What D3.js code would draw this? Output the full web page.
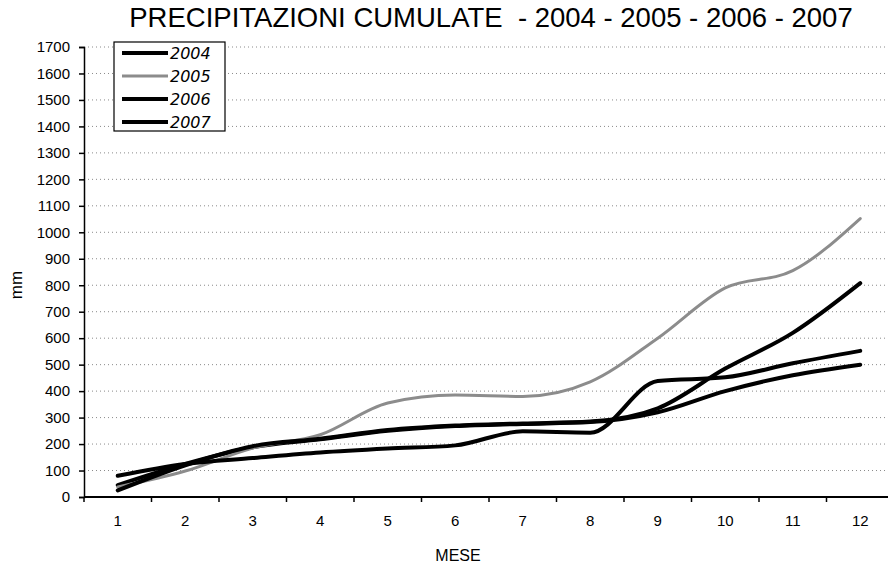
<!DOCTYPE html>
<html>
<head>
<meta charset="utf-8">
<script src="https://cdn.jsdelivr.net/npm/d3@7"></script>
<style>
  body { margin: 0; background: #fff; }
  svg { display: block; }
  text { font-family: "Liberation Sans", Arial, sans-serif; fill: #000; }
</style>
</head>
<body>
<svg id="chart" width="888" height="567"></svg>
<script>
// categories
var months = [1, 2, 3, 4, 5, 6, 7, 8, 9, 10, 11, 12];
var yTicks = d3.range(0, 1701, 100);

// cumulative precipitation (mm)
var years = ["2004", "2005", "2006", "2007"];
var v2004 = [45, 125, 188, 218, 250, 268, 276, 283, 320, 400, 460, 500];
var v2005 = [38, 98, 185, 235, 355, 385, 380, 435, 600, 790, 855, 1052];
var v2006 = [80, 125, 147, 168, 183, 195, 248, 243, 438, 452, 505, 552];
var v2007 = [25, 120, 192, 220, 253, 270, 278, 285, 335, 485, 620, 808];

var colors = { "2004": "#000", "2005": "#8c8c8c", "2006": "#000", "2007": "#000" };
var widths = { "2004": 4, "2005": 3, "2006": 4, "2007": 4 };

var series = [
  { name: "2004", values: v2004 },
  { name: "2005", values: v2005 },
  { name: "2006", values: v2006 },
  { name: "2007", values: v2007 }
];

var svg = d3.select("#chart");

var margin = { left: 84, top: 47, bottom: 497 },
    plotRight = 886;

var x = d3.scaleBand()
    .domain(months)
    .range([84, 894]);

var y = d3.scaleLinear()
    .domain([0, 1700])
    .range([margin.bottom, margin.top]);

// title
svg.append("text")
    .attr("x", 491)
    .attr("y", 27)
    .attr("text-anchor", "middle")
    .style("font-size", "27.5px")
    .style("white-space", "pre")
    .text("PRECIPITAZIONI CUMULATE  - 2004 - 2005 - 2006 - 2007");

// grid
svg.append("g")
    .selectAll("line")
    .data(yTicks.filter(function(d) { return d > 0; }))
    .enter().append("line")
    .attr("x1", margin.left)
    .attr("x2", plotRight)
    .attr("y1", function(d) { return y(d); })
    .attr("y2", function(d) { return y(d); })
    .attr("stroke", "#8a8a8a")
    .attr("stroke-width", 1)
    .attr("stroke-dasharray", "1,3");

// y axis
var yAxis = svg.append("g")
    .attr("transform", "translate(" + margin.left + ",0)")
    .call(d3.axisLeft(y).tickValues(yTicks).tickSize(5).tickPadding(9).tickFormat(d3.format("d")));
yAxis.select(".domain").attr("stroke", "#000").attr("stroke-width", 1.5);
yAxis.selectAll(".tick line").attr("stroke", "#000").attr("stroke-width", 1.5);
yAxis.selectAll("text").style("font-size", "15px").style("font-family", "Liberation Sans, Arial, sans-serif");

// x axis: ticks between categories
var xAxis = svg.append("g")
    .attr("transform", "translate(0," + margin.bottom + ")")
    .call(d3.axisBottom(x).tickSize(0).tickPadding(18));
xAxis.select(".domain").remove();
xAxis.selectAll("text").style("font-size", "15px").style("font-family", "Liberation Sans, Arial, sans-serif");

var bounds = months.map(function(m) { return x(m); }).concat([x(12) + x.bandwidth()]);
svg.append("line")
    .attr("x1", margin.left).attr("x2", 888)
    .attr("y1", margin.bottom).attr("y2", margin.bottom)
    .attr("stroke", "#000").attr("stroke-width", 2);
svg.append("g")
    .selectAll("line")
    .data(bounds)
    .enter().append("line")
    .attr("x1", function(d) { return d; })
    .attr("x2", function(d) { return d; })
    .attr("y1", margin.bottom)
    .attr("y2", margin.bottom + 5)
    .attr("stroke", "#000")
    .attr("stroke-width", 1.5);

// axis titles
svg.append("text")
    .attr("x", 458)
    .attr("y", 561)
    .attr("text-anchor", "middle")
    .style("font-size", "16px")
    .text("MESE");

svg.append("text")
    .attr("transform", "translate(22,285) rotate(-90)")
    .attr("text-anchor", "middle")
    .style("font-size", "17px")
    .text("mm");

// lines
var line = d3.line()
    .x(function(d, i) { return x(months[i]) + x.bandwidth() / 2; })
    .y(function(d) { return y(d); })
    .curve(d3.curveMonotoneX);

svg.append("g")
    .selectAll("path")
    .data(series)
    .enter().append("path")
    .attr("d", function(s) { return line(s.values); })
    .attr("fill", "none")
    .attr("stroke", function(s) { return colors[s.name]; })
    .attr("stroke-width", function(s) { return widths[s.name]; })
    .attr("stroke-linejoin", "round")
    .attr("stroke-linecap", "round");

// legend
var legend = svg.append("g").attr("transform", "translate(114,42)");
legend.append("rect")
    .attr("width", 111)
    .attr("height", 89)
    .attr("fill", "#fff")
    .attr("stroke", "#000")
    .attr("stroke-width", 1.2);

var item = legend.selectAll(".item")
    .data(years)
    .enter().append("g")
    .attr("class", "item")
    .attr("transform", function(d, i) { return "translate(0," + (11 + i * 23) + ")"; });
item.append("line")
    .attr("x1", 8).attr("x2", 54)
    .attr("stroke", function(d) { return colors[d]; })
    .attr("stroke-width", function(d) { return widths[d]; });
item.append("text")
    .attr("x", 56)
    .attr("y", 6)
    .style("font-family", "DejaVu Sans, sans-serif")
    .style("font-style", "italic")
    .style("font-size", "16px")
    .text(function(d) { return d; });
</script>
</body>
</html>
